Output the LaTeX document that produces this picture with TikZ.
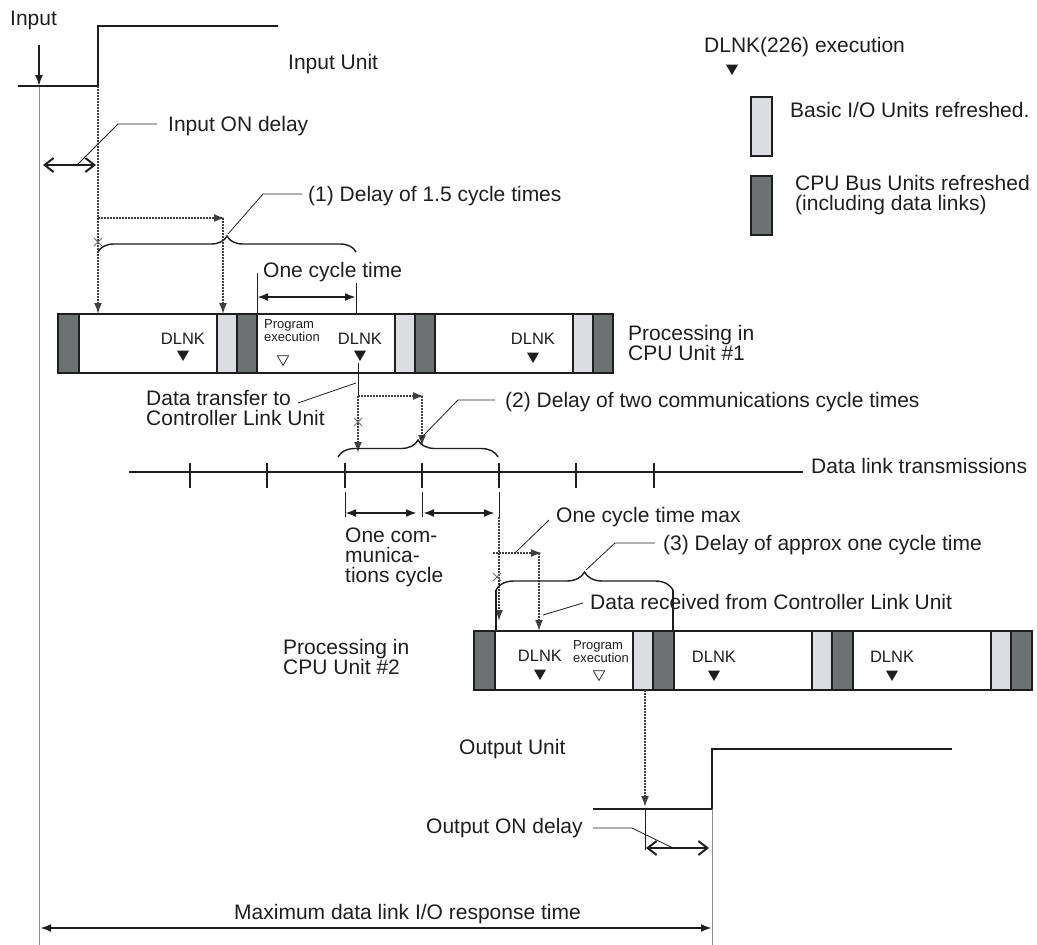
\documentclass[tikz,border=0pt]{standalone}
\usepackage{fontspec}
\setmainfont{Liberation Sans}
\usetikzlibrary{arrows.meta,decorations.pathreplacing,shapes.geometric}
\definecolor{ink}{HTML}{1E1E1E}
\definecolor{darkseg}{HTML}{6C7172}
\definecolor{lightseg}{HTML}{DCDDE0}
\definecolor{guide}{HTML}{8A8A8A}
\begin{document}
\begin{tikzpicture}[x=1pt,y=-1pt,
  every node/.style={inner sep=0pt, text=ink},
  lbl/.style={font=\fontsize{21}{20}\selectfont, anchor=north west, align=left},
  dl/.style={font=\fontsize{16.5}{18}\selectfont, anchor=base},
  pe/.style={font=\fontsize{13}{13.5}\selectfont, align=left, anchor=north west},
  tri/.style={regular polygon, regular polygon sides=3, shape border rotate=180, fill=ink, minimum size=14pt},
  otri/.style={regular polygon, regular polygon sides=3, shape border rotate=180, draw=ink, line width=0.7pt, minimum size=13pt},
  dseg/.style={fill=darkseg, draw=ink, line width=1.3pt},
  lseg/.style={fill=lightseg, draw=ink, line width=1.3pt},
  wseg/.style={fill=white, draw=ink, line width=1.3pt},
  dots/.style={line width=1.7pt, draw=ink!85, dash pattern=on 2pt off 1pt},
  tipped/.style={-{Latex[length=11pt,width=8pt]}},
  dbl/.style={line width=2pt, draw=ink, {Latex[length=11pt,width=8pt]}-{Latex[length=11pt,width=8pt]}},
  barb/.style={line width=2.2pt, draw=ink, {Straight Barb[length=9pt,width=14pt,line width=2pt]}-{Straight Barb[length=9pt,width=14pt,line width=2pt]}},
  leader/.style={line width=0.8pt, draw=ink},
  thinl/.style={line width=0.9pt, draw=guide},
  signal/.style={line width=2.8pt, draw=ink},
  brc/.style={line width=1.4pt, draw=ink, decorate},
  xmark/.pic={\draw[line width=1pt, ink!65] (-4,-4)--(4,4) (-4,4)--(4,-4);}
]
\useasboundingbox (0,0) rectangle (1037,945);

% ---------------- legend ----------------
\node[lbl] (legdlnk) at (704,37) {DLNK(226) execution};
\node[tri] (legtri) at (732,68) {};
\draw[lseg] (751,97) rectangle (772,156);
\node[lbl] (legbasic) at (790,102) {Basic I/O Units refreshed.};
\draw[dseg] (751,176) rectangle (772,235);
\node[lbl] (legcpu) at (795,175) {CPU Bus Units refreshed\\(including data links)};

% ---------------- input ----------------
\node[lbl] (input) at (10,11) {Input};
\node[lbl] (inunit) at (288,54) {Input Unit};
\coordinate (inA) at (39,45);
\coordinate (inB) at (39,86);
\coordinate (inL) at (18,86);
\coordinate (inR) at (98,86);
\coordinate (inT) at (98,26);
\coordinate (inTE) at (278,26);
\draw[thinl] (inB) -- (39,945);
\draw[line width=1.3pt, ink] (inL) -- (inR);
\draw[line width=1.8pt, ink, tipped] (inA) -- (inB);
\draw[signal, line cap=butt] (inR) -- (inT) -- (inTE);

\coordinate (c1a) at (98,314);
\coordinate (c1b) at (223,314);
\coordinate (h1) at (98,218);
\coordinate (h1e) at (225,218);
\coordinate (h1v) at (223,218);
\draw[dots, tipped] (inR) -- (c1a);
\draw[dots, tipped] (h1) -- (h1e);
\draw[dots, tipped] (h1v) -- (c1b);
\pic at (98,242) {xmark};

\node[lbl] (inon) at (168,116) {Input ON delay};
\coordinate (ionL) at (43,165);
\coordinate (ionR) at (96,165);
\draw[barb] (ionL) -- (ionR);
\draw[leader] (77,165) -- (118,124) -- (157,124);

\draw[brc, decoration={brace, amplitude=16pt}] (98,252) -- (356,252);
\node[lbl] (d1) at (308,186) {(1) Delay of 1.5 cycle times};
\draw[leader] (228,234) -- (263,194) -- (302,194);

\node[lbl] (oct) at (263,262) {One cycle time};
\coordinate (octL) at (257,297);
\coordinate (octR) at (356,297);
\draw[thinl, ink] (257,273) -- (257,314);
\draw[thinl, ink] (356,283) -- (356,333);
\draw[dbl] (octL) -- (octR);

% ---------------- CPU unit #1 ----------------
\draw[dseg] (58,314) rectangle (79,373);
\draw[wseg] (79,314) rectangle (217,373);
\draw[lseg] (217,314) rectangle (237,373);
\draw[dseg] (237,314) rectangle (257,373);
\draw[wseg] (257,314) rectangle (395,373);
\draw[lseg] (395,314) rectangle (415,373);
\draw[dseg] (415,314) rectangle (435,373);
\draw[wseg] (435,314) rectangle (573,373);
\draw[lseg] (573,314) rectangle (593,373);
\draw[dseg] (593,314) rectangle (613,373);
\node[dl] (k1a) at (183,344) {DLNK};
\node[tri] (t1a) at (183,354) {};
\node[dl] (k1b) at (360,344) {DLNK};
\node[tri] (t1b) at (360,354) {};
\node[dl] (k1c) at (533,344) {DLNK};
\node[tri] (t1c) at (533,356) {};
\node[pe] (pe1) at (264,319) {Program\\execution};
\node[otri] (o1) at (283,359) {};
\node[lbl] (proc1) at (628,325) {Processing in\\CPU Unit \#1};

% ---------------- data transfer ----------------
\coordinate (dtA) at (358,363);
\coordinate (dtB) at (358,396);
\coordinate (dtC) at (358,453);
\coordinate (dtH) at (424,396);
\coordinate (dtV) at (422,396);
\coordinate (dtW) at (422,446);
\draw[thinl, ink] (dtA) -- (dtB);
\draw[dots, tipped] (dtB) -- (dtC);
\draw[dots, tipped] (dtB) -- (dtH);
\draw[dots, tipped] (dtV) -- (dtW);
\pic at (358,422) {xmark};
\node[lbl] (dtx) at (146,390) {Data transfer to\\Controller Link Unit};
\draw[leader] (298,403) -- (356,383);

\draw[brc, decoration={brace, amplitude=17pt}] (338,457) -- (498,457);
\node[lbl] (d2) at (505,392) {(2) Delay of two communications cycle times};
\draw[leader] (420,439) -- (458,400) -- (495,400);

% ---------------- data link line ----------------
\coordinate (dlL) at (129,472);
\coordinate (dlR) at (803,472);
\draw[line width=1.6pt, ink] (dlL) -- (dlR);
\foreach \tx in {190,267,345,422,499,576,654}
  \draw[line width=1.6pt, ink] (\tx,463) -- (\tx,488);
\node[lbl] (dlt) at (811,458) {Data link transmissions};

\draw[thinl, ink] (345,492) -- (345,517);
\draw[thinl, ink] (422,492) -- (422,517);
\draw[thinl, ink] (499,492) -- (499,517);
\coordinate (cc1L) at (345,513);
\coordinate (cc1R) at (417,513);
\coordinate (cc2L) at (423,513);
\coordinate (cc2R) at (495,513);
\draw[dbl] (cc1L) -- (cc1R);
\draw[dbl] (cc2L) -- (cc2R);
\node[lbl] (occ) at (345,528) {One com-\\munica-\\tions cycle};

\coordinate (rxA) at (499,517);
\coordinate (rxB) at (499,621);
\draw[dots, tipped] (rxA) -- (rxB);
\coordinate (mxA) at (493,553);
\coordinate (mxB) at (542,553);
\coordinate (mxV) at (539,553);
\coordinate (mxW) at (539,631);
\draw[dots, tipped] (mxA) -- (mxB);
\draw[dots, tipped] (mxV) -- (mxW);
\pic at (497,577) {xmark};
\node[lbl] (octm) at (556,507) {One cycle time max};
\draw[leader] (515,553) -- (549,520);

\draw[brc, decoration={brace, amplitude=18pt}] (496,590) -- (673,590);
\draw[line width=1.4pt, ink] (496,590) -- (496,631);
\draw[line width=1.4pt, ink] (673,590) -- (673,631);
\node[lbl] (d3) at (663,535) {(3) Delay of approx one cycle time};
\draw[leader] (586,570) -- (615,543) -- (655,543);
\node[lbl] (drx) at (590,594) {Data received from Controller Link Unit};
\draw[leader] (543,615) -- (583,603);

% ---------------- CPU unit #2 ----------------
\draw[dseg] (474,631) rectangle (495,690);
\draw[wseg] (495,631) rectangle (633,690);
\draw[lseg] (633,631) rectangle (653,690);
\draw[dseg] (653,631) rectangle (674,690);
\draw[wseg] (674,631) rectangle (812,690);
\draw[lseg] (812,631) rectangle (832,690);
\draw[dseg] (832,631) rectangle (853,690);
\draw[wseg] (853,631) rectangle (991,690);
\draw[lseg] (991,631) rectangle (1011,690);
\draw[dseg] (1011,631) rectangle (1032,690);
\node[dl] (k2a) at (540,661) {DLNK};
\node[tri] (t2a) at (540,673) {};
\node[dl] (k2b) at (714,662) {DLNK};
\node[tri] (t2b) at (714,674) {};
\node[dl] (k2c) at (892,662) {DLNK};
\node[tri] (t2c) at (892,674) {};
\node[pe] (pe2) at (573,640) {Program\\execution};
\node[otri] (o2) at (599,674) {};
\node[lbl] (proc2) at (283,639) {Processing in\\CPU Unit \#2};

% ---------------- output ----------------
\coordinate (opA) at (645,690);
\coordinate (opB) at (645,807);
\draw[dots, tipped] (opA) -- (opB);
\coordinate (ouL) at (593,809);
\coordinate (ouR) at (712,809);
\coordinate (ouT) at (712,749);
\coordinate (ouTE) at (952,749);
\draw[line width=1.3pt, ink] (ouL) -- (ouR);
\draw[signal, line cap=butt] (ouR) -- (ouT) -- (ouTE);
\draw[thinl] (ouR) -- (712,945);
\draw[thinl, ink] (645,809) -- (645,850);
\node[lbl] (outu) at (459,739) {Output Unit};
\node[lbl] (outon) at (426,818) {Output ON delay};
\coordinate (oonL) at (646,848);
\coordinate (oonR) at (709,848);
\draw[barb] (oonL) -- (oonR);
\draw[leader] (593,828) -- (632,828) -- (673,848);

\node[lbl] (maxt) at (234,904) {Maximum data link I/O response time};
\coordinate (mxL) at (40,928);
\coordinate (mxR) at (712,928);
\draw[dbl, line width=2.2pt] (mxL) -- (mxR);
\end{tikzpicture}
\end{document}
